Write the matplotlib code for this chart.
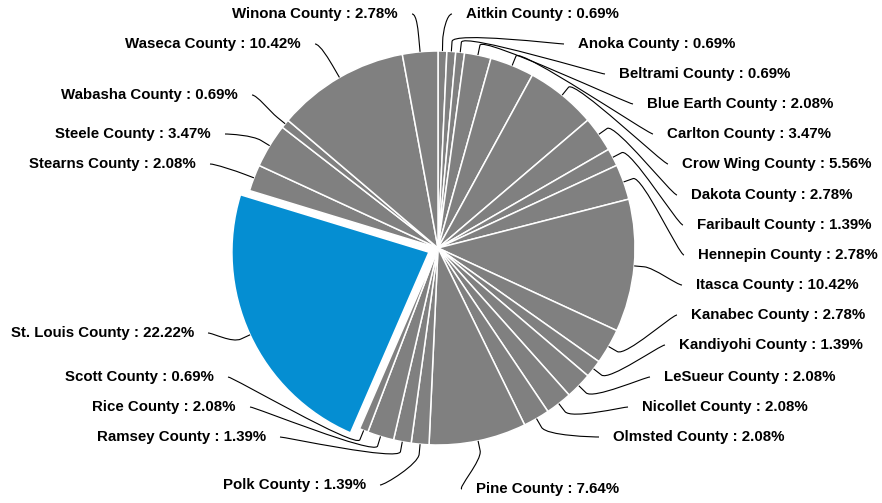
import numpy as np
import matplotlib.pyplot as plt
from matplotlib.path import Path
from matplotlib.patches import PathPatch

# counties in drawing order (clockwise from 12 o'clock) and their share
counties = ["Aitkin County", "Anoka County", "Beltrami County", "Blue Earth County",
            "Carlton County", "Crow Wing County", "Dakota County", "Faribault County",
            "Hennepin County", "Itasca County", "Kanabec County", "Kandiyohi County",
            "LeSueur County", "Nicollet County", "Olmsted County", "Pine County",
            "Polk County", "Ramsey County", "Rice County", "Scott County",
            "St. Louis County", "Stearns County", "Steele County", "Wabasha County",
            "Waseca County", "Winona County"]
percent = [0.69, 0.69, 0.69, 2.08, 3.47, 5.56, 2.78, 1.39, 2.78, 10.42,
           2.78, 1.39, 2.08, 2.08, 2.08, 7.64, 1.39, 1.39, 2.08, 0.69,
           22.22, 2.08, 3.47, 0.69, 10.42, 2.78]
highlight = "St. Louis County"

# label layout in pixels (edge of text closest to the pie, vertical centre)
label_x = [466, 578, 619, 647, 667, 682, 691, 697, 698, 696, 691, 679, 664, 642, 613, 476,
           366, 266, 236, 214, 194, 196, 211, 238, 301, 398]
label_y = [14, 44, 74, 104, 134, 164, 195, 225, 255, 285, 315, 345, 377, 407, 437, 489,
           485, 437, 407, 377, 333, 164, 134, 95, 44, 14]

W, H = 882, 503
CX, CY, R = 438, 248, 197
GRAY = "#808080"
BLUE = "#058ED2"

fig = plt.figure(figsize=(W / 100, H / 100), dpi=100)
ax = fig.add_axes([0, 0, 1, 1])

colors = [BLUE if c == highlight else GRAY for c in counties]
explode = [10 if c == highlight else 0 for c in counties]  # pixels

wedges, _ = ax.pie(percent, colors=colors, explode=explode, startangle=90,
                   counterclock=False, center=(CX, H - CY), radius=R,
                   wedgeprops=dict(edgecolor="white", linewidth=1.1))
ax.set_xlim(0, W)
ax.set_ylim(0, H)
ax.set_aspect("auto")
ax.axis("off")

for i, (name, p, w) in enumerate(zip(counties, percent, wedges)):
    right = i <= 15
    lx, ly = label_x[i], H - label_y[i]
    ax.text(lx, ly, f"{name} : {p:.2f}%", ha="left" if right else "right", va="center",
            fontsize=10.8, fontweight="bold", family="Liberation Sans", color="black")

    # connector: label -> soft bend -> short radial stub -> middle of slice arc
    mid = np.deg2rad((w.theta1 + w.theta2) / 2)
    ux, uy = np.cos(mid), np.sin(mid)
    wc = w.center
    touch = np.array([wc[0] + R * ux, wc[1] + R * uy])
    brk = np.array([wc[0] + (R + 10) * ux, wc[1] + (R + 10) * uy])
    start = np.array([lx - 14 if right else lx + 14, ly])
    c1 = start + np.array([-5 if right else 5, 0])
    c2 = 2 * brk - touch
    verts = [start, c1, c2, brk, touch]
    codes = [Path.MOVETO, Path.CURVE4, Path.CURVE4, Path.CURVE4, Path.LINETO]
    ax.add_patch(PathPatch(Path(verts, codes), fill=False, edgecolor="black", linewidth=0.8))

fig.savefig("out.png", dpi=100)
